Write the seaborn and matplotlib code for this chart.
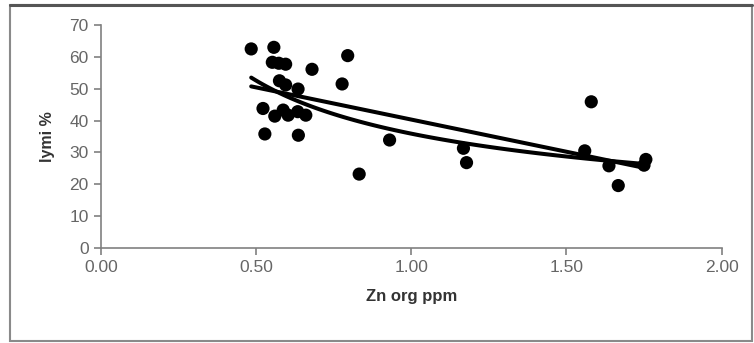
import numpy as np
import pandas as pd
import matplotlib
matplotlib.use("Agg")
import matplotlib.pyplot as plt
import seaborn as sns
from matplotlib.patches import Rectangle

# points
zn_org = [0.484, 0.557, 0.552, 0.573, 0.595, 0.680, 0.795, 0.777, 0.575, 0.595,
          0.635, 0.522, 0.560, 0.587, 0.603, 0.634, 0.660, 0.528, 0.636, 0.832,
          0.930, 1.168, 1.178, 1.580, 1.559, 1.637, 1.667, 1.756, 1.750]
lymi = [62.5, 63.0, 58.3, 58.0, 57.7, 56.1, 60.4, 51.5, 52.5, 51.2,
        49.9, 43.8, 41.4, 43.3, 41.7, 42.8, 41.7, 35.8, 35.4, 23.2,
        33.9, 31.3, 26.8, 45.9, 30.5, 25.8, 19.6, 27.8, 26.0]

x_ticks = [0.0, 0.5, 1.0, 1.5, 2.0]
y_ticks = [0, 10, 20, 30, 40, 50, 60, 70]

df = pd.DataFrame({"zn": zn_org, "lymi": lymi})

sns.set_style("white")
plt.rcParams["font.family"] = ["Liberation Sans", "DejaVu Sans"]

fig = plt.figure(figsize=(7.54, 3.43), dpi=100)
ax = fig.add_axes([0.134, 0.277, 0.823, 0.650])

sns.scatterplot(data=df, x="zn", y="lymi", ax=ax, color="black", s=90,
                edgecolor="none", zorder=3)

# trendlines: linear and power fit (like excel)
xs = np.linspace(min(zn_org), max(zn_org), 100)
lin = np.polyfit(df["zn"], df["lymi"], 1)
pw = np.polyfit(np.log(df["zn"]), np.log(df["lymi"]), 1)
trend = pd.DataFrame({"x": xs, "lin": np.polyval(lin, xs),
                      "pow": np.exp(pw[1]) * xs ** pw[0]})
sns.lineplot(data=trend, x="x", y="lin", ax=ax, color="black", lw=2.9, zorder=4)
sns.lineplot(data=trend, x="x", y="pow", ax=ax, color="black", lw=2.9, zorder=4)

ax.set_xlim(0, 2.0)
ax.set_ylim(0, 70)
ax.set_xticks(x_ticks)
ax.set_xticklabels([f"{t:.2f}" for t in x_ticks])
ax.set_yticks(y_ticks)
for s in ["top", "right"]:
    ax.spines[s].set_visible(False)
for s in ["left", "bottom"]:
    ax.spines[s].set_color("#808080")
    ax.spines[s].set_linewidth(1.2)
ax.tick_params(axis="both", direction="out", length=5, width=1.2, color="#808080",
               labelsize=12.5, labelcolor="#666666", left=True, bottom=True, pad=4)
ax.set_xlabel("Zn org ppm", fontsize=12, fontweight="bold", color="#333333", labelpad=10)
ax.set_ylabel("lymi %", fontsize=11.5, fontweight="bold", color="#333333", labelpad=10)

# outer frame, top edge darker like the reference
fig.patches.append(Rectangle((0.013, 0.006), 0.985, 0.98, transform=fig.transFigure,
                             fill=False, edgecolor="#8a8a8a", linewidth=1.5))
fig.add_artist(plt.Line2D([0.013, 0.998], [0.986, 0.986], transform=fig.transFigure,
                          color="#555555", linewidth=2.2))

fig.savefig("out.png", dpi=100)
